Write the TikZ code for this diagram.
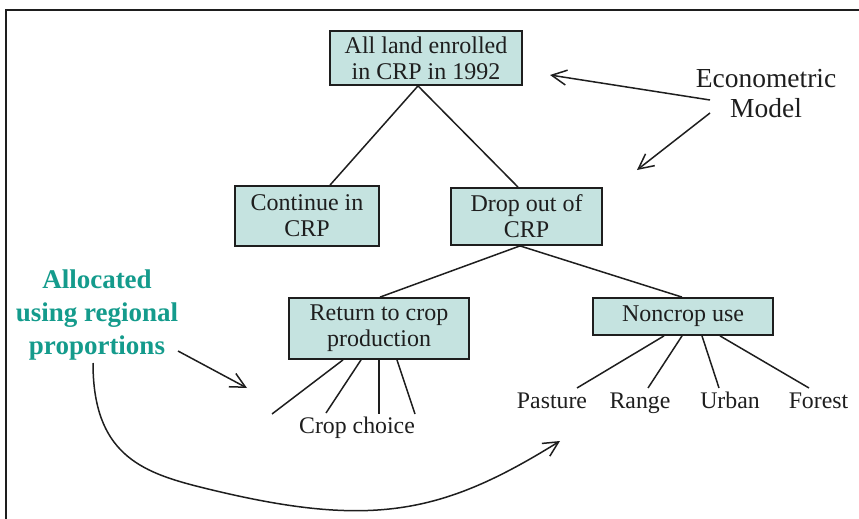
\documentclass[tikz,border=0pt]{standalone}
\usepackage{fontspec}
\setmainfont{Liberation Serif}
\usetikzlibrary{arrows.meta}
\definecolor{boxfill}{RGB}{197,227,224}
\definecolor{tealtext}{RGB}{20,155,140}
\definecolor{ink}{RGB}{30,30,30}
\begin{document}
\begin{tikzpicture}[x=1pt,y=-1pt,
  box/.style={draw=ink, line width=1.8pt, fill=boxfill, align=center, inner sep=0pt,
              font=\fontsize{24}{26}\selectfont, text=ink},
  conn/.style={line width=1.5pt, draw=ink},
  arr/.style={conn, -{Straight Barb[length=15pt,width=15pt,line width=1.5pt]}},
  lbl/.style={font=\fontsize{23.8}{26}\selectfont, inner sep=0pt, anchor=base, text=ink},
  note/.style={font=\fontsize{27.5}{30}\selectfont, inner sep=0pt, anchor=base, align=center, text=ink},
  alloc/.style={font=\bfseries\fontsize{27}{33}\selectfont, inner sep=0pt, anchor=base, align=center, text=tealtext}
]
\useasboundingbox (0,0) rectangle (859,519);
\draw[line width=2pt, ink] (6,519) -- (6,10) -- (859,10);

% boxes
\node[box, minimum width=192pt, minimum height=54pt] (top) at (426,58) {All land enrolled\\in CRP in 1992};
\node[box, minimum width=144pt, minimum height=60pt] (cont) at (307,216) {Continue in\\CRP};
\node[box, minimum width=151pt, minimum height=57pt] (drop) at (526.5,216.5) {Drop out of\\CRP};
\node[box, minimum width=180pt, minimum height=61pt] (ret) at (379,328.5) {Return to crop\\production};
\node[box, minimum width=180pt, minimum height=37pt] (non) at (683,316.5) {Noncrop use};

% tree connectors
\draw[conn] ([xshift=-8pt]top.south) -- ([xshift=23pt]cont.north);
\draw[conn] ([xshift=-8pt]top.south) -- ([xshift=-8.5pt]drop.north);
\draw[conn] ([xshift=-6.5pt]drop.south) -- ([xshift=1pt]ret.north);
\draw[conn] ([xshift=-6.5pt]drop.south) -- ([xshift=-1pt]non.north);

% crop choice fan
\coordinate (c1) at (272,414);
\coordinate (c2) at (326,413);
\coordinate (c3) at (379,414);
\coordinate (c4) at (415,414);
\draw[conn] ([xshift=-36pt]ret.south) -- (c1);
\draw[conn] ([xshift=-18pt]ret.south) -- (c2);
\draw[conn] (ret.south) -- (c3);
\draw[conn] ([xshift=18pt]ret.south) -- (c4);
\node[lbl] (cropchoice) at (357,433) {Crop choice};

% noncrop fan
\coordinate (n1) at (577,388);
\coordinate (n2) at (648,388);
\coordinate (n3) at (719,388);
\coordinate (n4) at (809,388);
\draw[conn] ([xshift=-19pt]non.south) -- (n1);
\draw[conn] ([xshift=-1pt]non.south) -- (n2);
\draw[conn] ([xshift=19pt]non.south) -- (n3);
\draw[conn] ([xshift=37pt]non.south) -- (n4);
\node[lbl] (pasture) at (552,408) {Pasture};
\node[lbl] (range) at (640,408) {Range};
\node[lbl] (urban) at (730,408) {Urban};
\node[lbl] (forest) at (818.5,408) {Forest};

% econometric model
\node[note] (econ) at (766,117) {Econometric\\Model};
\coordinate (ms1) at (710,100);
\coordinate (me1) at (550,75);
\coordinate (ms2) at (710,113);
\coordinate (me2) at (637,170);
\draw[arr] (ms1) -- (me1);
\draw[arr] (ms2) -- (me2);

% allocated
\node[alloc] (allocated) at (97,354) {Allocated\\using regional\\proportions};
\coordinate (as) at (178,351);
\coordinate (ae) at (247,388);
\draw[arr] (as) -- (ae);
\coordinate (cs) at (93,363);
\coordinate (ce) at (560,441);
\draw[arr] (cs) .. controls (93,453) and (140,472) .. (200,487)
                .. controls (370,529.5) and (441,515) .. (ce);
\end{tikzpicture}
\end{document}
